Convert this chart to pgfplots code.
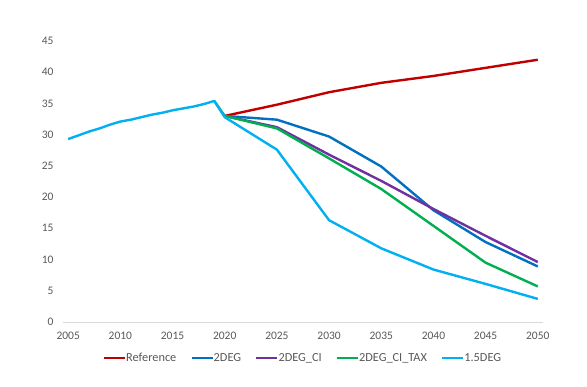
\documentclass[border=0pt]{standalone}
\usepackage{pgfplots}
\pgfplotsset{compat=1.18}
\usepackage{fontspec}
\setmainfont{Carlito}
\definecolor{cref}{HTML}{C00000}
\definecolor{ctwo}{HTML}{0070C0}
\definecolor{cci}{HTML}{7030A0}
\definecolor{ctax}{HTML}{00B050}
\definecolor{cfive}{HTML}{00B0F0}
\definecolor{txt}{HTML}{595959}
\definecolor{axl}{HTML}{D9D9D9}
\begin{document}
\begin{tikzpicture}
\begin{axis}[
  at={(0pt,0pt)}, anchor=origin,
  scale only axis,
  width=480pt, height=281pt,
  xmin=2004.5, xmax=2050.5,
  ymin=0, ymax=45,
  xtick={2005,2010,...,2050},
  ytick={0,5,...,45},
  axis lines=left,
  x axis line style={draw=axl, line width=1pt, -},
  y axis line style={draw=none, -},
  major tick length=0pt,
  xticklabel style={/pgf/number format/1000 sep={}, yshift=-7pt},
  yticklabel style={xshift=-6pt},
  /pgf/number format/assume math mode=true,
  tick label style={font=\fontsize{11.5}{13}\selectfont, text=txt},
  every axis plot/.append style={line width=2.4pt, line join=round, no markers},
  legend style={at={(0.5,-36pt)}, anchor=center, draw=none, legend columns=-1,
    font=\fontsize{12.3}{14}\selectfont, text=txt,
    /tikz/every even column/.append style={column sep=12pt}},
  legend image code/.code={\draw[#1] (0pt,0pt) -- (21pt,0pt);},
  legend cell align=left,
  clip=false,
]
\addplot[cref] coordinates {(2020,33.0) (2025,34.8) (2030,36.8) (2035,38.3) (2040,39.4) (2045,40.7) (2050,42.0)};
\addlegendentry{\hspace{-2pt}Reference}
\addplot[ctwo] coordinates {(2020,33.0) (2025,32.4) (2030,29.7) (2035,24.9) (2040,17.9) (2045,12.8) (2050,8.9)};
\addlegendentry{\hspace{-2pt}2DEG}
\addplot[cci] coordinates {(2020,33.0) (2025,31.2) (2030,26.8) (2035,22.6) (2040,18.1) (2045,13.8) (2050,9.6)};
\addlegendentry{\hspace{-2pt}2DEG\_CI}
\addplot[ctax] coordinates {(2019,35.4) (2020,33.0) (2025,31.0) (2030,26.2) (2035,21.3) (2040,15.4) (2045,9.5) (2050,5.7)};
\addlegendentry{\hspace{-2pt}2DEG\_CI\_TAX}
\addplot[cfive] coordinates {(2005,29.3) (2006,29.9) (2007,30.5) (2008,31.0) (2009,31.6) (2010,32.1) (2011,32.4) (2012,32.8) (2013,33.2) (2014,33.5) (2015,33.9) (2016,34.2) (2017,34.5) (2018,34.9) (2019,35.4) (2020,32.8) (2025,27.6) (2030,16.3) (2035,11.8) (2040,8.4) (2045,6.1) (2050,3.7)};
\addlegendentry{\hspace{-2pt}1.5DEG}
\end{axis}
\useasboundingbox (-63pt,-64pt) rectangle (524pt,322pt);
\end{tikzpicture}
\end{document}
